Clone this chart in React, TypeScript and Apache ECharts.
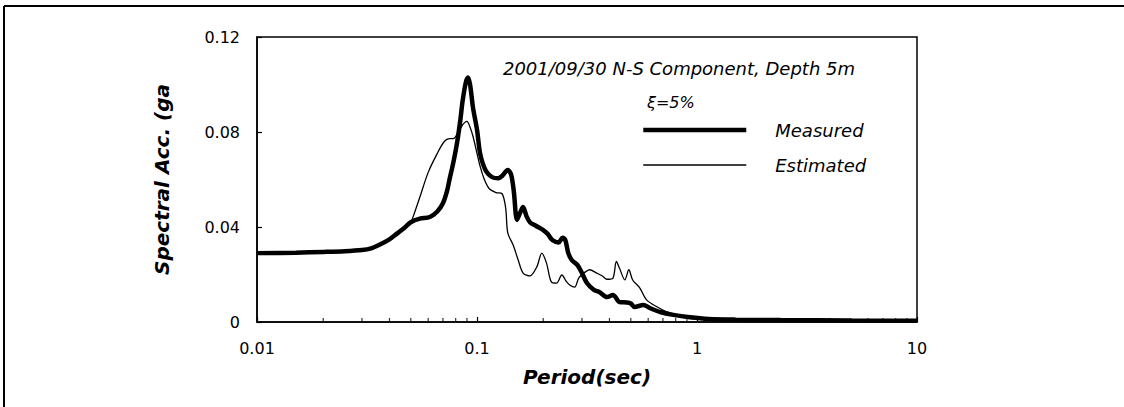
import React, { useEffect, useRef } from "react";
import * as echarts from "echarts";

const titleText = "2001/09/30 N-S Component, Depth 5m";
const dampingText = "ξ=5%";
const seriesNames = ["Measured", "Estimated"];
const xTickLabels = ["0.01", "0.1", "1", "10"];
const yTickLabels = ["0", "0.04", "0.08", "0.12"];
const minorTickPeriods = [
  0.02, 0.03, 0.04, 0.05, 0.06, 0.07, 0.08, 0.09,
  0.2, 0.3, 0.4, 0.5, 0.6, 0.7, 0.8, 0.9,
  2, 3, 4, 5, 6, 7, 8, 9,
];

const measured: [number, number][] = [
  [0.01, 0.029], [0.015, 0.0292], [0.02, 0.0295], [0.025, 0.0298], [0.03, 0.0303],
  [0.033, 0.031], [0.036, 0.0325], [0.04, 0.0348], [0.043, 0.037], [0.047, 0.0398],
  [0.05, 0.042], [0.055, 0.0435], [0.061, 0.0442], [0.066, 0.0465], [0.07, 0.05],
  [0.073, 0.055], [0.075, 0.06], [0.078, 0.067], [0.081, 0.075], [0.084, 0.085],
  [0.086, 0.093], [0.089, 0.101], [0.091, 0.103], [0.093, 0.1], [0.096, 0.09],
  [0.1, 0.081], [0.103, 0.0715], [0.106, 0.067], [0.11, 0.0635], [0.117, 0.061],
  [0.125, 0.0605], [0.13, 0.0615], [0.138, 0.064], [0.143, 0.062], [0.147, 0.055],
  [0.152, 0.043], [0.157, 0.046], [0.162, 0.0484], [0.168, 0.0445], [0.174, 0.042],
  [0.185, 0.0405], [0.2, 0.0387], [0.21, 0.037], [0.22, 0.0345], [0.235, 0.0335],
  [0.245, 0.0355], [0.252, 0.0345], [0.26, 0.029], [0.27, 0.026], [0.286, 0.024],
  [0.3, 0.0206], [0.316, 0.0164], [0.34, 0.0135], [0.36, 0.0126], [0.39, 0.0105],
  [0.415, 0.0114], [0.445, 0.0084], [0.48, 0.0082], [0.5, 0.0078], [0.52, 0.0063],
  [0.57, 0.0072], [0.61, 0.0059], [0.68, 0.0042], [0.78, 0.003], [0.93, 0.002],
  [1.13, 0.0013], [1.5, 0.001], [2.4, 0.0008], [5, 0.0006], [10, 0.0005],
];

const estimated: [number, number][] = [
  [0.01, 0.029], [0.015, 0.0292], [0.02, 0.0295], [0.025, 0.0298], [0.03, 0.0303],
  [0.033, 0.031], [0.036, 0.0325], [0.04, 0.0348], [0.043, 0.037], [0.047, 0.0398],
  [0.05, 0.042], [0.052, 0.046], [0.055, 0.0526], [0.06, 0.063], [0.066, 0.071],
  [0.071, 0.076], [0.075, 0.0772], [0.078, 0.0772], [0.082, 0.0796], [0.086, 0.083],
  [0.09, 0.0845], [0.093, 0.082], [0.096, 0.078], [0.1, 0.071], [0.103, 0.066],
  [0.108, 0.06], [0.114, 0.056], [0.122, 0.0545], [0.13, 0.054], [0.135, 0.048],
  [0.138, 0.0375], [0.146, 0.0324], [0.154, 0.026], [0.162, 0.0206], [0.174, 0.0194],
  [0.187, 0.0232], [0.197, 0.029], [0.207, 0.0248], [0.218, 0.0168], [0.23, 0.0164],
  [0.243, 0.0198], [0.255, 0.017], [0.264, 0.0156], [0.278, 0.0147], [0.29, 0.0185],
  [0.31, 0.021], [0.325, 0.022], [0.35, 0.0206], [0.37, 0.0195], [0.39, 0.018],
  [0.415, 0.0185], [0.43, 0.0255], [0.445, 0.0225], [0.47, 0.0177], [0.49, 0.022],
  [0.51, 0.0177], [0.55, 0.0143], [0.59, 0.0093], [0.66, 0.0063], [0.73, 0.0042],
  [0.86, 0.002], [1.1, 0.0012], [2, 0.0008], [5, 0.0006], [10, 0.0005],
];

const FONT = "DejaVu Sans";

export default function App() {
  const ref = useRef<HTMLDivElement>(null);
  useEffect(() => {
    if (!ref.current) return;
    const chart = echarts.init(ref.current, null, { renderer: "svg" });
    const xLabel = (v: number) => {
      const e = Math.round(Math.log10(v)) + 2;
      return xTickLabels[e] ?? String(v);
    };
    const yLabel = (v: number) => {
      const i = Math.round(v / 0.04);
      return yTickLabels[i] ?? String(v);
    };
    const hiddenSymbol = { color: "transparent", borderColor: "transparent", borderWidth: 0, opacity: 0 };
    chart.setOption({
      animation: false,
      backgroundColor: "#fff",
      title: [
        {
          text: titleText,
          left: 679,
          textAlign: "center",
          top: 59,
          padding: 0,
          textStyle: { fontFamily: FONT, fontStyle: "italic", fontWeight: "normal", fontSize: 18, color: "#000" },
        },
        {
          text: dampingText,
          left: 647,
          top: 94,
          padding: 0,
          textStyle: { fontFamily: FONT, fontStyle: "italic", fontWeight: "normal", fontSize: 16, color: "#000" },
        },
      ],
      legend: {
        data: [
          { name: seriesNames[0], lineStyle: { width: 4.5, color: "#000" }, itemStyle: hiddenSymbol },
          { name: seriesNames[1], lineStyle: { width: 1.3, color: "#000" }, itemStyle: hiddenSymbol },
        ],
        orient: "vertical",
        left: 641,
        top: 121,
        padding: 0,
        itemWidth: 103,
        itemHeight: 20,
        itemGap: 17,
        textStyle: {
          fontFamily: FONT,
          fontStyle: "italic",
          fontSize: 18,
          color: "#000",
          padding: [0, 0, 0, 24],
        },
      },
      grid: {
        left: 257,
        top: 37,
        right: 207,
        bottom: 85,
        show: true,
        borderColor: "#000",
        borderWidth: 1.5,
        backgroundColor: "transparent",
      },
      xAxis: {
        type: "log",
        logBase: 10,
        min: 0.01,
        max: 10,
        name: "Period(sec)",
        nameLocation: "middle",
        nameGap: 45,
        nameTextStyle: { fontFamily: FONT, fontStyle: "italic", fontWeight: "bold", fontSize: 20, color: "#000" },
        axisLine: { show: true, lineStyle: { color: "#000", width: 1.5 } },
        axisTick: { show: true, inside: true, length: 5, lineStyle: { color: "#000", width: 1.2 } },
        axisLabel: { formatter: xLabel, margin: 18, fontFamily: FONT, fontSize: 16, color: "#000" },
        splitLine: { show: false },
      },
      yAxis: {
        type: "value",
        min: 0,
        max: 0.12,
        interval: 0.04,
        name: "Spectral Acc. (ga",
        nameLocation: "middle",
        nameGap: 85,
        nameRotate: 90,
        nameTextStyle: { fontFamily: FONT, fontStyle: "italic", fontWeight: "bold", fontSize: 20, color: "#000" },
        axisLine: { show: true, lineStyle: { color: "#000", width: 1.5 } },
        axisTick: { show: true, inside: true, length: 5, lineStyle: { color: "#000", width: 1.2 } },
        axisLabel: { formatter: yLabel, margin: 17, fontFamily: FONT, fontSize: 16, color: "#000" },
        splitLine: { show: false },
      },
      graphic: [
        { type: "line", shape: { x1: 4, y1: 6, x2: 1124, y2: 6 }, style: { stroke: "#000", lineWidth: 2 } },
        { type: "line", shape: { x1: 4, y1: 6, x2: 4, y2: 407 }, style: { stroke: "#000", lineWidth: 2 } },
      ],
      series: [
        {
          name: seriesNames[1],
          type: "line",
          data: estimated,
          symbol: "none",
          smooth: 0.3,
          lineStyle: { color: "#000", width: 1.3 },
          itemStyle: { color: "#000" },
          z: 2,
        },
        {
          name: seriesNames[0],
          type: "line",
          data: measured,
          symbol: "none",
          smooth: 0.3,
          lineStyle: { color: "#000", width: 4.5 },
          itemStyle: { color: "#000" },
          z: 3,
        },
        {
          name: "minorTicks",
          type: "scatter",
          data: minorTickPeriods.map((p) => [p, 0]),
          symbol: "rect",
          symbolSize: [1.2, 4],
          symbolOffset: [0, -2],
          itemStyle: { color: "#000" },
          silent: true,
          clip: false,
          z: 4,
        },
      ],
    });
    return () => chart.dispose();
  }, []);
  return (
    <div
      ref={ref}
      style={{ position: "fixed", left: 0, top: 0, width: 1124, height: 407, background: "#fff" }}
    />
  );
}
